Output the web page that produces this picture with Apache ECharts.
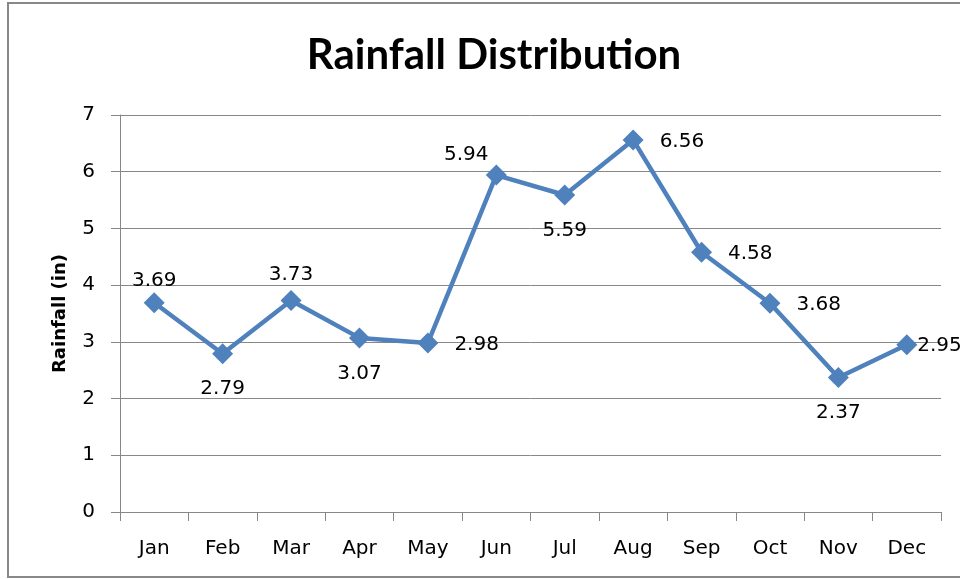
<!DOCTYPE html>
<html>
<head>
<meta charset="utf-8">
<script src="https://cdn.jsdelivr.net/npm/echarts@6/dist/echarts.min.js"></script>
<style>
  html, body { margin: 0; padding: 0; background: #fff; }
  #chart { width: 960px; height: 579px; }
</style>
</head>
<body>
<div id="chart"></div>
<script>
var months = ["Jan", "Feb", "Mar", "Apr", "May", "Jun", "Jul", "Aug", "Sep", "Oct", "Nov", "Dec"];
var rainfall = [3.69, 2.79, 3.73, 3.07, 2.98, 5.94, 5.59, 6.56, 4.58, 3.68, 2.37, 2.95];
var yTicks = [0, 1, 2, 3, 4, 5, 6, 7];

// where each value label sits (like the original)
var labelPlace = ["topnear", "bottom", "top", "bottom", "right", "topleft", "bottom", "right", "right", "right", "bottom", "rightnear"];

var fontFam = "'DejaVu Sans', sans-serif";
var titleFont = "Lato, 'Open Sans', sans-serif";
var gridColor = "#878787";

var dom = document.getElementById("chart");
var myChart = echarts.init(dom);

var seriesData = rainfall.map(function (v, i) {
  var p = labelPlace[i];
  var lbl;
  if (p === "topleft") {
    lbl = { position: "top", distance: 0, offset: [-30, 0] };
  } else if (p === "right") {
    lbl = { position: "right", distance: 16, offset: [0, 2] };
  } else if (p === "rightnear") {
    lbl = { position: "right", distance: 0, offset: [0, 1] };
  } else if (p === "bottom") {
    lbl = { position: "bottom", distance: 15 };
  } else if (p === "topnear") {
    lbl = { position: "top", distance: 1 };
  } else {
    lbl = { position: "top", distance: 5 };
  }
  return { value: v, label: lbl };
});

var option = {
  backgroundColor: "#ffffff",
  animation: false,
  title: {
    text: "Rainfall Distribution",
    left: 489,
    textAlign: "center",
    top: 29,
    textStyle: {
      fontFamily: titleFont,
      fontWeight: "bold",
      fontSize: 42,
      color: "#000"
    }
  },
  graphic: [
    {
      type: "rect",
      shape: { x: 8, y: 3, width: 1000, height: 574 },
      style: { fill: "none", stroke: "#888", lineWidth: 2 },
      z: -1
    }
  ],
  grid: {
    left: 120,
    right: 19,
    top: 115,
    bottom: 67
  },
  xAxis: {
    type: "category",
    data: months,
    boundaryGap: true,
    axisLine: { lineStyle: { color: gridColor, width: 1 } },
    axisTick: { show: true, length: 9, alignWithLabel: false, lineStyle: { color: gridColor } },
    axisLabel: {
      color: "#000",
      fontFamily: fontFam,
      fontSize: 20,
      margin: 27
    }
  },
  yAxis: {
    type: "value",
    min: yTicks[0],
    max: yTicks[yTicks.length - 1],
    interval: 1,
    name: "Rainfall (in)",
    nameLocation: "middle",
    nameGap: 51,
    nameRotate: 90,
    nameTextStyle: {
      fontFamily: fontFam,
      fontWeight: "bold",
      fontSize: 18,
      color: "#000"
    },
    axisLine: { show: true, lineStyle: { color: gridColor, width: 1 } },
    axisTick: { show: true, length: 9, lineStyle: { color: gridColor } },
    axisLabel: {
      color: "#000",
      fontFamily: fontFam,
      fontSize: 20,
      margin: 25
    },
    splitLine: { lineStyle: { color: gridColor, width: 1 } }
  },
  series: [
    {
      type: "line",
      data: seriesData,
      symbol: "diamond",
      symbolSize: 21,
      itemStyle: { color: "#4F81BD" },
      lineStyle: { color: "#4F81BD", width: 4.5 },
      label: {
        show: true,
        color: "#000",
        fontFamily: fontFam,
        fontSize: 20,
        formatter: function (p) { return p.value.toFixed(2); }
      }
    }
  ]
};
myChart.setOption(option, true);
</script>
</body>
</html>
